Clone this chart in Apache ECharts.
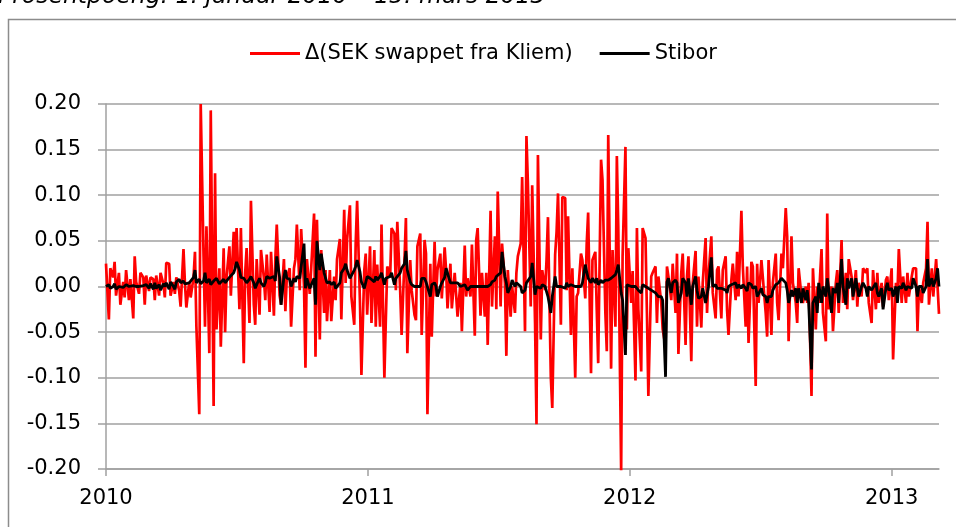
<!DOCTYPE html>
<html><head><meta charset="utf-8">
<script src="https://cdn.jsdelivr.net/npm/echarts@6/dist/echarts.min.js"></script>
<style>html,body{margin:0;padding:0;background:#fff}#c{width:956px;height:527px}</style>
</head><body><div id="c"></div>
<script>
const titleText = 'Prosentpoeng. 1. januar 2010 – 15. mars 2013';
const seriesNames = ['Δ(SEK swappet fra Kliem)', 'Stibor'];
const startYear = 2010;          // first observation: 1 Jan 2010, every 2nd business day
const businessDayStep = 2;
const yMin = -0.20, yMax = 0.20, yStep = 0.05;
const xTickYears = [2010, 2011, 2012, 2013];

const kliemDelta = [
0.025,-0.036,0.020,0.010,0.027,-0.010,0.015,-0.020,0.005,-0.012,
0.018,-0.015,0.008,-0.035,0.033,0.005,-0.008,0.015,0.010,-0.020,
0.012,-0.005,0.010,0.008,-0.015,0.012,-0.010,0.015,0.003,-0.012,
0.026,0.025,-0.010,0.005,-0.008,0.010,-0.005,-0.022,0.041,0.004,
-0.023,0.005,-0.012,0.010,0.038,-0.044,-0.140,0.200,0.033,-0.044,
0.066,-0.073,0.193,-0.131,0.124,-0.047,0.020,-0.066,0.042,-0.050,
0.010,0.044,-0.010,0.060,0.020,0.064,-0.025,0.064,-0.084,0.015,
0.042,-0.040,0.094,-0.020,-0.042,0.030,-0.031,0.040,0.010,-0.015,
0.035,-0.028,0.038,-0.032,0.030,0.068,-0.010,-0.020,0.030,-0.027,
0.010,0.020,-0.044,0.020,0.030,0.068,-0.004,0.063,0.000,-0.089,
0.030,-0.008,0.020,0.080,-0.077,0.073,-0.058,0.040,-0.029,0.018,
-0.038,0.018,-0.038,0.011,-0.015,0.030,0.052,-0.036,0.084,0.004,
0.051,0.089,-0.011,-0.042,0.047,0.094,-0.018,-0.097,0.018,0.036,
-0.031,0.044,-0.040,0.040,-0.044,0.024,-0.044,0.068,-0.100,-0.037,
0.022,0.010,0.064,0.058,-0.004,0.071,-0.004,-0.053,0.029,0.075,
-0.073,0.029,-0.004,-0.031,-0.037,0.044,0.058,-0.053,0.051,0.036,
-0.140,0.025,-0.055,0.049,-0.011,0.018,0.036,-0.013,0.043,0.018,
-0.024,0.025,-0.024,0.015,0.016,-0.033,0.004,-0.049,0.045,-0.011,
0.009,-0.011,0.046,-0.054,0.051,0.064,-0.032,0.015,-0.033,0.015,
-0.064,0.083,-0.022,0.055,-0.025,0.104,-0.022,0.047,0.004,-0.076,
0.018,-0.033,0.000,-0.029,0.015,0.033,0.047,0.120,-0.049,0.165,
0.113,-0.022,0.111,-0.040,-0.151,0.144,-0.058,0.018,-0.004,0.029,
0.076,-0.100,-0.133,0.035,0.060,0.102,-0.042,0.098,0.097,-0.004,
0.077,-0.053,0.020,-0.100,-0.011,-0.007,0.036,0.029,-0.013,0.047,
0.081,-0.095,0.029,0.038,-0.026,-0.084,0.139,0.117,-0.029,-0.071,
0.166,-0.090,0.040,-0.044,0.143,0.064,-0.203,0.033,0.153,-0.047,
0.042,-0.018,0.017,-0.103,0.064,-0.025,-0.093,0.064,0.053,-0.029,
-0.120,0.011,0.015,0.022,-0.040,0.011,-0.018,-0.047,-0.066,0.022,
0.011,-0.015,0.025,-0.029,0.036,-0.074,0.015,0.036,-0.064,0.011,
0.033,-0.082,0.004,0.039,-0.044,0.011,-0.045,0.004,0.053,-0.029,
0.011,0.055,-0.007,-0.035,0.018,0.022,-0.035,0.018,0.033,-0.026,
-0.053,0.007,0.025,-0.015,0.038,-0.011,0.083,0.022,-0.044,0.022,
-0.062,0.027,0.022,-0.109,0.025,-0.018,0.029,0.029,-0.029,-0.055,
0.029,-0.053,0.004,0.036,-0.018,-0.037,0.036,0.020,0.086,0.055,
-0.060,0.055,0.004,-0.018,-0.040,0.020,-0.011,-0.018,0.000,-0.018,
0.004,-0.120,0.020,-0.047,0.000,-0.018,0.041,-0.029,-0.060,0.080,
-0.025,0.000,-0.049,0.004,0.018,-0.029,0.051,-0.018,0.015,-0.025,
0.030,0.011,-0.015,0.018,-0.022,0.004,-0.011,0.020,0.015,0.020,
-0.018,-0.040,0.018,-0.025,0.015,-0.018,0.004,-0.022,0.007,0.011,
-0.015,0.020,-0.080,0.004,-0.011,0.041,-0.018,0.011,-0.018,0.015,
-0.011,0.011,0.020,0.020,-0.049,0.000,-0.018,0.004,0.020,0.071,
-0.020,0.020,-0.011,0.030,0.029,-0.030
];

const stibor = [
0.000,0.002,-0.002,0.000,0.003,-0.003,0.000,0.002,-0.001,0.000,
0.002,0.000,-0.002,0.001,0.000,0.000,0.000,0.000,0.001,-0.001,
0.002,-0.002,0.003,-0.003,0.004,-0.002,0.002,-0.004,0.003,0.000,
0.004,-0.003,0.005,0.000,-0.003,0.005,0.008,0.004,0.006,0.003,
0.005,0.004,0.006,0.010,0.018,0.004,0.008,0.003,0.006,0.015,
0.004,0.008,0.002,0.006,0.004,0.009,0.003,0.005,0.008,0.004,
0.003,0.010,0.012,0.015,0.020,0.027,0.018,0.010,0.009,0.009,
0.004,0.008,0.011,0.004,-0.002,0.002,0.009,0.004,0.000,0.004,
0.011,0.009,0.009,0.011,0.006,0.033,0.010,-0.020,0.011,0.018,
0.009,0.008,0.000,0.009,0.005,0.011,0.009,0.009,0.047,-0.002,
0.009,-0.002,0.000,0.009,-0.020,0.050,0.018,0.036,0.015,0.009,
0.004,0.005,0.002,0.005,-0.002,-0.002,0.004,0.015,0.020,0.025,
0.018,0.009,0.012,0.018,0.022,0.029,0.016,0.005,-0.002,-0.002,
0.011,0.009,0.011,0.005,0.011,0.007,0.011,0.015,0.002,0.009,
0.009,0.011,0.015,0.002,0.009,0.011,0.015,0.020,0.025,0.039,
0.018,0.005,0.002,0.000,0.000,0.000,0.000,0.009,0.009,0.005,
0.005,-0.011,0.002,0.004,0.000,-0.011,0.000,0.004,0.010,0.020,
0.018,0.004,0.002,0.004,0.006,0.004,0.000,-0.002,0.002,0.004,
-0.004,0.000,0.000,0.000,0.000,0.000,0.000,0.000,0.000,0.000,
0.000,0.002,0.005,0.007,0.011,0.011,0.015,0.038,0.011,0.004,
-0.007,0.000,0.007,0.000,0.004,0.002,0.000,-0.007,-0.004,0.004,
0.004,0.011,0.026,-0.009,0.000,0.002,-0.002,0.002,0.000,-0.002,
-0.011,-0.029,-0.011,0.011,0.000,-0.002,0.000,0.002,-0.002,0.004,
0.000,0.002,0.000,0.000,0.000,0.000,0.000,0.004,0.024,0.016,
0.009,0.004,0.009,0.004,0.009,0.002,0.007,0.004,0.007,0.005,
0.007,0.009,0.011,0.013,0.018,0.024,-0.007,-0.015,-0.075,0.002,
0.002,0.000,0.002,0.000,-0.002,-0.004,-0.007,0.002,0.000,0.000,
-0.002,-0.004,-0.002,-0.007,-0.009,-0.011,-0.011,-0.015,-0.099,0.005,
0.009,-0.007,0.004,0.007,0.004,-0.018,-0.007,0.009,0.004,-0.011,
0.009,-0.020,0.000,0.011,-0.004,-0.013,-0.011,-0.002,-0.018,-0.009,
0.000,0.032,0.000,0.002,-0.002,0.000,-0.002,-0.002,-0.004,-0.007,
0.000,0.002,0.004,0.004,-0.002,0.002,-0.002,0.002,-0.002,-0.005,
0.004,0.002,-0.002,0.000,-0.011,-0.009,-0.002,-0.009,-0.011,-0.018,
-0.011,-0.011,-0.004,0.002,0.004,0.004,0.009,0.009,0.004,-0.004,
-0.018,-0.004,-0.011,-0.002,-0.018,-0.002,-0.018,-0.002,-0.015,-0.004,
-0.018,-0.091,-0.018,-0.011,-0.029,0.004,-0.018,0.000,-0.011,0.009,
-0.002,-0.029,-0.002,-0.007,0.004,-0.018,0.030,0.000,-0.020,0.009,
-0.002,0.009,-0.011,0.009,-0.002,-0.011,0.000,0.004,-0.002,-0.011,
0.000,-0.004,-0.002,0.004,-0.007,-0.011,-0.002,-0.025,-0.002,0.004,
-0.004,-0.002,-0.011,0.000,-0.018,0.000,-0.002,0.004,-0.004,0.000,
0.000,-0.002,0.009,0.000,-0.011,0.000,0.000,-0.007,0.000,0.030,
0.000,0.009,0.000,0.009,0.020,0.000
];

// observation dates: every 2nd business day from 1 Jan 2010, expressed as fractional years
function observationYears(n) {
  const out = [];
  const d = new Date(Date.UTC(startYear, 0, 1));
  let count = 0;
  while (out.length < n) {
    const wd = d.getUTCDay();
    if (wd !== 0 && wd !== 6) {
      if (count % businessDayStep === 0) {
        const y = d.getUTCFullYear();
        const s = Date.UTC(y, 0, 1), e = Date.UTC(y + 1, 0, 1);
        out.push(y + (d.getTime() - s) / (e - s));
      }
      count++;
    }
    d.setUTCDate(d.getUTCDate() + 1);
  }
  return out;
}
const xs = observationYears(kliemDelta.length);
const redData = kliemDelta.map((v, i) => [xs[i], v]);
const blackData = stibor.map((v, i) => [xs[i], v]);

const FONT = 'DejaVu Sans';
const gridColor = '#a0a0a0';
const chart = echarts.init(document.getElementById('c'), null, {renderer: 'canvas'});
chart.setOption({
  animation: false,
  backgroundColor: '#fff',
  graphic: [
    {type: 'rect', shape: {x: 8.5, y: 19.5, width: 1000, height: 700},
     style: {fill: 'none', stroke: '#8c8c8c', lineWidth: 1.5}, silent: true},
    {type: 'text', left: -2, top: -15,
     style: {text: titleText, font: 'italic 23.5px "DejaVu Sans"', fill: '#000'}}
  ],
  legend: {
    data: seriesNames,
    left: 245, top: 38,
    icon: 'rect', itemWidth: 50, itemHeight: 3, itemGap: 27,
    textStyle: {fontFamily: FONT, fontSize: 21, color: '#000'}
  },
  grid: {left: 106, right: 17, top: 104, bottom: 58, containLabel: false},
  xAxis: {
    type: 'value', min: startYear, max: xs[xs.length - 1],
    axisLine: {onZero: false, lineStyle: {color: gridColor, width: 1.5}},
    axisTick: {show: true, length: 7, customValues: xTickYears, lineStyle: {color: gridColor, width: 1.5}},
    axisLabel: {customValues: xTickYears, formatter: v => String(Math.round(v)),
      fontFamily: FONT, fontSize: 21, color: '#000', margin: 19},
    splitLine: {show: false}
  },
  yAxis: {
    type: 'value', min: yMin, max: yMax, interval: yStep,
    axisLine: {show: true, lineStyle: {color: gridColor, width: 1.5}},
    axisTick: {show: true, length: 8, lineStyle: {color: gridColor, width: 1.5}},
    axisLabel: {formatter: v => v.toFixed(2), fontFamily: FONT, fontSize: 21, color: '#000', margin: 25},
    splitLine: {show: true, lineStyle: {color: gridColor, width: 1.5}}
  },
  series: [
    {name: seriesNames[0], type: 'line', data: redData, showSymbol: false, symbol: 'none',
     lineStyle: {color: '#ff0000', width: 2.7}, itemStyle: {color: '#ff0000'}, z: 2},
    {name: seriesNames[1], type: 'line', data: blackData, showSymbol: false, symbol: 'none',
     lineStyle: {color: '#000000', width: 2.8}, itemStyle: {color: '#000000'}, z: 3}
  ]
});
</script>
</body></html>
